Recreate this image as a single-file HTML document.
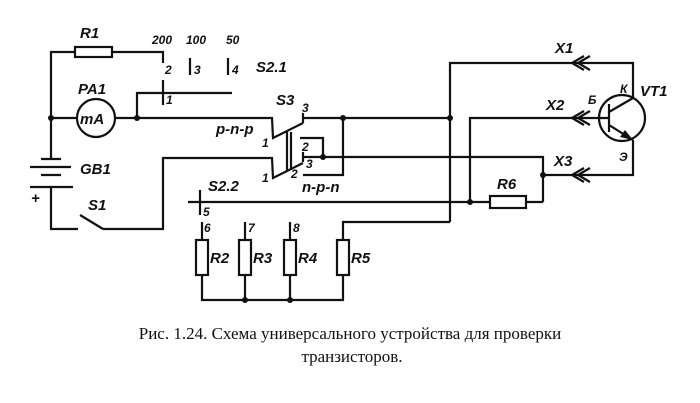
<!DOCTYPE html>
<html><head><meta charset="utf-8"><style>
body{margin:0;background:#fff}
svg{display:block}
.l{font-family:"Liberation Sans",sans-serif;font-style:italic;font-weight:bold;font-size:15px;fill:#111}
.s{font-family:"Liberation Sans",sans-serif;font-style:italic;font-weight:bold;font-size:12px;fill:#111}
.c{font-family:"Liberation Serif",serif;font-size:17px;fill:#111}
</style></head><body>
<svg width="700" height="403" viewBox="0 0 700 403" xmlns="http://www.w3.org/2000/svg">
<g stroke="#111" stroke-width="2.2" fill="none">
<polyline points="51,118 51,52 75,52"/>
<rect x="75" y="47" width="37" height="10" fill="#fff"/>
<polyline points="112,52 163,52 163,63"/>
<line x1="51" y1="118" x2="76" y2="118"/>
<circle cx="96" cy="118" r="19"/>
<polyline points="115,118 272,118 273,138 303,123"/>
<polyline points="137,118 137,93 232,93"/>
<line x1="163" y1="80" x2="163" y2="105"/>
<line x1="190" y1="58" x2="190" y2="75"/>
<line x1="228" y1="58" x2="228" y2="75"/>
<line x1="51" y1="118" x2="51" y2="159"/>
<line x1="41" y1="159" x2="61" y2="159"/>
<line x1="30" y1="167" x2="71" y2="167"/>
<line x1="41" y1="175" x2="61" y2="175"/>
<line x1="30" y1="187" x2="73" y2="187"/>
<polyline points="51,187 51,229 78,229"/>
<line x1="80" y1="215" x2="103" y2="229"/>
<polyline points="103,229 163,229 163,158 272,158 273,178 303,163"/>
<line x1="287" y1="132" x2="287" y2="170"/>
<line x1="291" y1="132" x2="291" y2="170"/>
<polyline points="303,118 450,118"/>
<polyline points="343,118 343,175 303,175"/>
<polyline points="300,138 323,138 323,157"/>
<polyline points="303,157 543,157 543,202"/>
<line x1="303" y1="113" x2="303" y2="123"/>
<line x1="303" y1="152" x2="303" y2="162"/>
<polyline points="450,222 450,63 633,63 633,98"/>
<polyline points="343,240 343,222 450,222"/>
<polyline points="470,202 470,118 608,118"/>
<polyline points="543,175 633,175 633,140"/>
<line x1="188" y1="202" x2="490" y2="202"/>
<rect x="490" y="196" width="36" height="12" fill="#fff"/>
<line x1="526" y1="202" x2="543" y2="202"/>
<line x1="200" y1="190" x2="200" y2="215"/>
<circle cx="622" cy="118" r="23"/>
<line x1="609" y1="104" x2="609" y2="132"/>
<line x1="609" y1="112" x2="633" y2="98"/>
<line x1="609" y1="125" x2="633" y2="140"/>
<polyline points="584,56 572,63 584,70"/><polyline points="590,56 578,63 590,70"/>
<polyline points="584,111 572,118 584,125"/><polyline points="590,111 578,118 590,125"/>
<polyline points="584,168 572,175 584,182"/><polyline points="590,168 578,175 590,182"/>
<line x1="202" y1="222" x2="202" y2="240"/>
<line x1="245" y1="222" x2="245" y2="240"/>
<line x1="290" y1="222" x2="290" y2="240"/>
<rect x="196" y="240" width="12" height="35" fill="#fff"/>
<rect x="239" y="240" width="12" height="35" fill="#fff"/>
<rect x="284" y="240" width="12" height="35" fill="#fff"/>
<rect x="337" y="240" width="12" height="35" fill="#fff"/>
<polyline points="202,275 202,300 343,300 343,275"/>
<line x1="245" y1="275" x2="245" y2="300"/>
<line x1="290" y1="275" x2="290" y2="300"/>
</g>
<polygon points="633,140 620,137 625,130" fill="#111"/>
<g fill="#111">
<circle cx="51" cy="118" r="3"/><circle cx="137" cy="118" r="3"/>
<circle cx="343" cy="118" r="3"/><circle cx="450" cy="118" r="3"/>
<circle cx="323" cy="157" r="3"/><circle cx="543" cy="175" r="3"/>
<circle cx="470" cy="202" r="3"/><circle cx="245" cy="300" r="3"/><circle cx="290" cy="300" r="3"/>
</g>
<text class="l" x="80" y="38">R1</text>
<text class="s" x="152" y="44">200</text><text class="s" x="186" y="44">100</text><text class="s" x="226" y="44">50</text>
<text class="s" x="165" y="74">2</text><text class="s" x="194" y="74">3</text><text class="s" x="232" y="74">4</text>
<text class="l" x="256" y="72">S2.1</text>
<text class="l" x="78" y="94">PA1</text>
<text class="l" x="80" y="124" font-size="14">mA</text>
<text class="s" x="166" y="104">1</text>
<text class="l" x="276" y="105">S3</text>
<text class="s" x="302" y="112">3</text>
<text class="l" x="216" y="134" font-size="14">p-n-p</text>
<text class="s" x="262" y="147">1</text>
<text class="s" x="302" y="151">2</text><text class="s" x="306" y="168">3</text>
<text class="s" x="262" y="182">1</text><text class="s" x="291" y="178">2</text>
<text class="l" x="302" y="192" font-size="14">n-p-n</text>
<text class="l" x="80" y="174">GB1</text>
<text class="l" x="31" y="203" font-size="18">+</text>
<text class="l" x="88" y="210">S1</text>
<text class="l" x="208" y="191">S2.2</text>
<text class="s" x="203" y="216">5</text>
<text class="s" x="204" y="232">6</text><text class="s" x="248" y="232">7</text><text class="s" x="293" y="232">8</text>
<text class="l" x="210" y="263">R2</text><text class="l" x="253" y="263">R3</text>
<text class="l" x="298" y="263">R4</text><text class="l" x="351" y="263">R5</text>
<text class="l" x="497" y="189">R6</text>
<text class="l" x="555" y="53">X1</text><text class="l" x="546" y="110">X2</text><text class="l" x="554" y="166">X3</text>
<text class="s" x="588" y="104">Б</text><text class="s" x="620" y="93">К</text>
<text class="l" x="640" y="96">VT1</text><text class="s" x="619" y="161">Э</text>
<text class="c" x="350" y="339" text-anchor="middle">Рис. 1.24. Схема универсального устройства для проверки</text>
<text class="c" x="352" y="362" text-anchor="middle">транзисторов.</text>
</svg>
</body></html>
